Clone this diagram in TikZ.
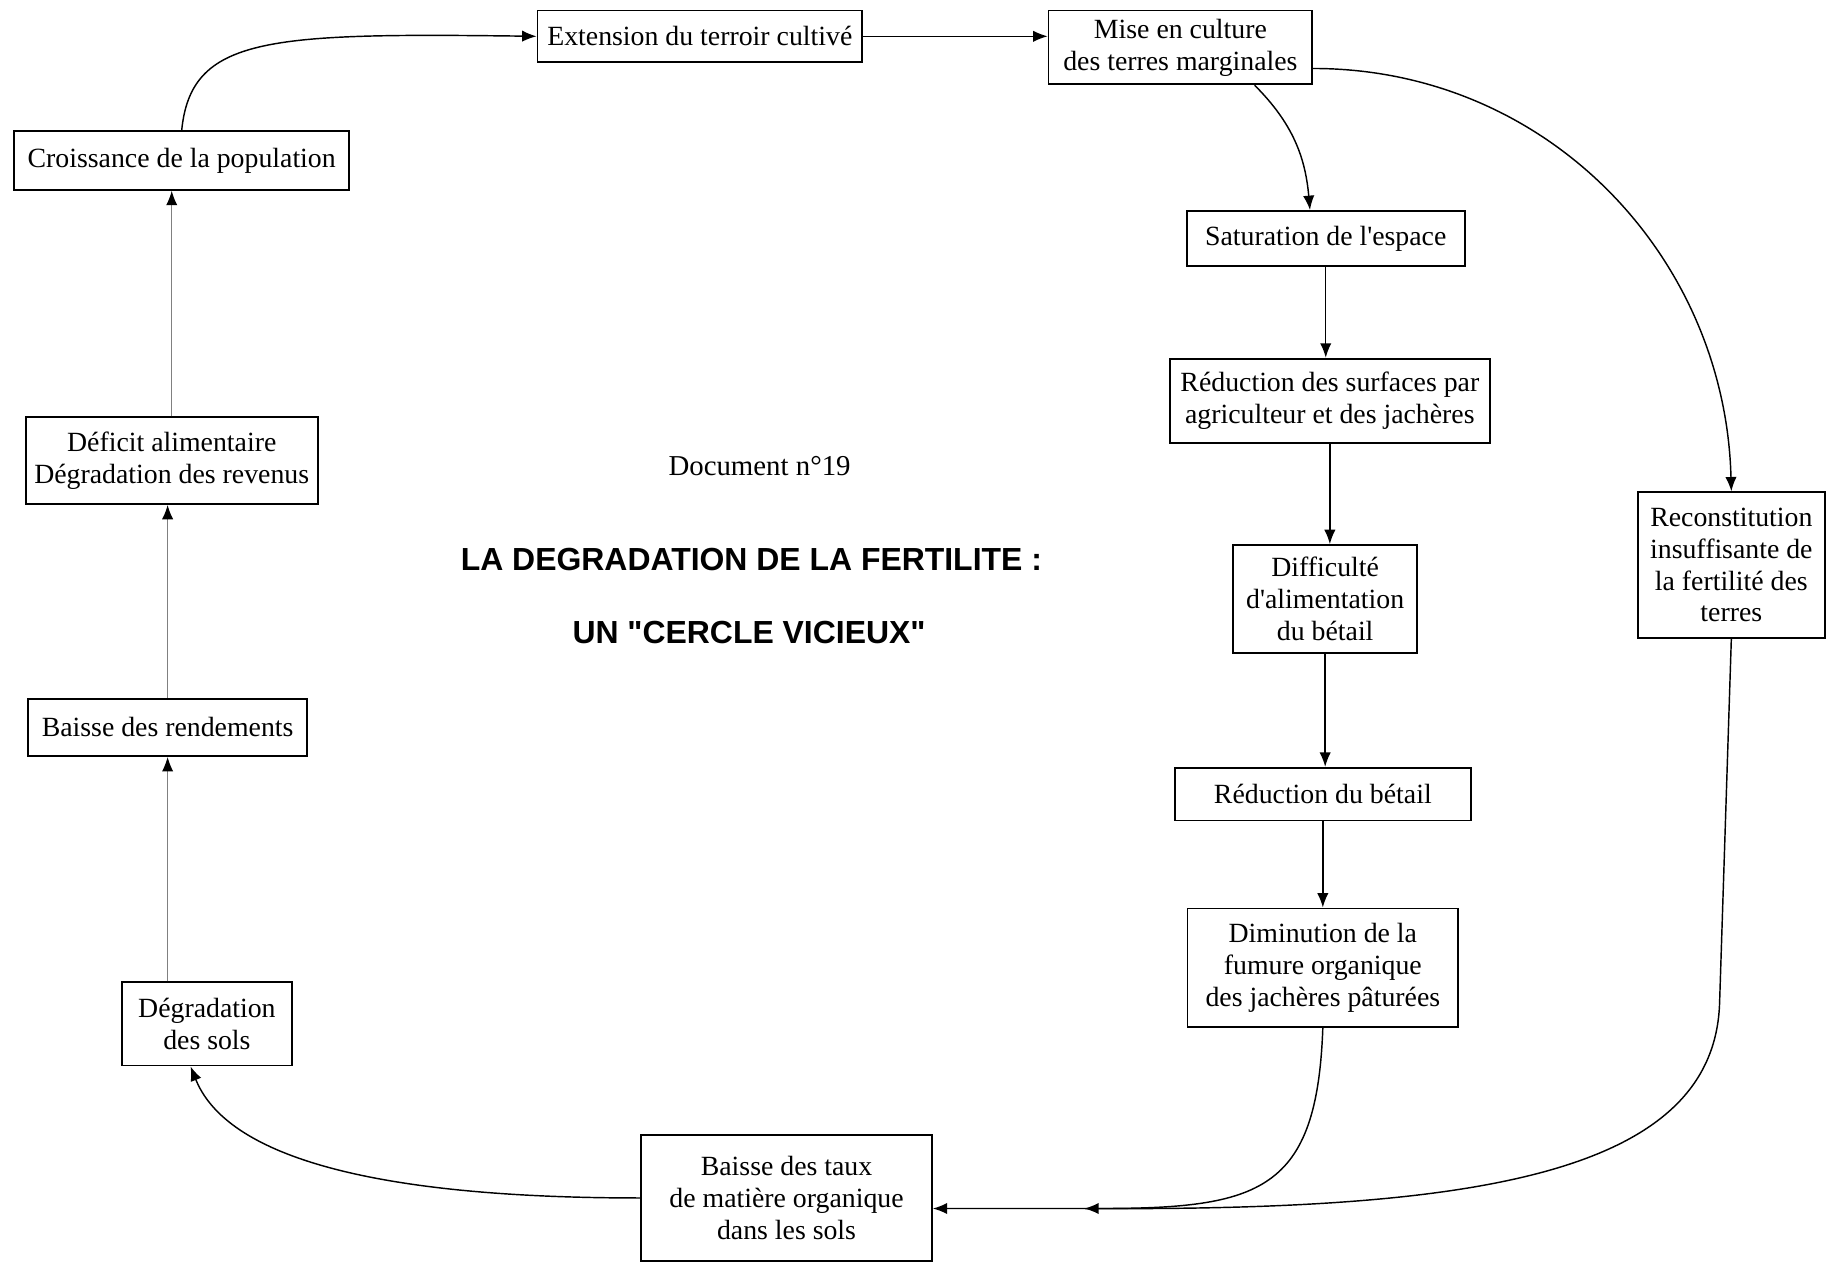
\documentclass[tikz,border=0pt]{standalone}
\usepackage{fontspec}
\setmainfont{Liberation Serif}
\newfontfamily\titlefont{Liberation Sans}
\usepackage{tikz}
\usetikzlibrary{positioning,arrows.meta}

\tikzset{
  box/.style={draw, line width=0.9pt, align=center, inner sep=2pt,
    font=\fontsize{13.5}{15.5}\selectfont},
  link/.style={->, line width=0.7pt},
  faint/.style={-{Latex[length=7pt,width=5.5pt,color=black]}, line width=0.6pt, draw=black!50},
  heading/.style={font=\titlefont\bfseries\fontsize{15.5}{18}\selectfont}
}

\begin{document}
\begin{tikzpicture}[x=0.02cm,y=0.02cm,>={Latex[length=7pt,width=5.5pt]}]
  \useasboundingbox (0,0) rectangle (1568,1077);

  \node[box,minimum width=5.72cm,minimum height=1cm] (croiss) at (155,940) {Croissance de la population};
  \node[box,minimum width=5.54cm,minimum height=0.88cm] (ext) at (597,1046) {Extension du terroir cultivé};
  \node[box,minimum width=4.5cm,minimum height=1.26cm] (mise) at (1007,1036.5) {Mise en culture\\des terres marginales};
  \node[box,minimum width=4.74cm,minimum height=0.94cm] (satur) at (1131,873.5) {Saturation de l\textquotesingle espace};
  \node[box,minimum width=5.46cm,minimum height=1.44cm] (redsurf) at (1134.5,735) {Réduction des surfaces par\\agriculteur et des jachères};
  \node[box,minimum width=3.14cm,minimum height=1.84cm] (diffic) at (1130.5,566) {Difficulté\\d\textquotesingle alimentation\\du bétail};
  \node[box,minimum width=5.06cm,minimum height=0.9cm] (redbet) at (1128.5,399.5) {Réduction du bétail};
  \node[box,minimum width=4.62cm,minimum height=2.02cm] (dimin) at (1128.5,251.5) {Diminution de la\\fumure organique\\des jachères pâturées};
  \node[box,minimum width=3.2cm,minimum height=2.48cm] (recons) at (1477,595) {Reconstitution\\insuffisante de\\la fertilité des\\terres};
  \node[box,minimum width=4.96cm,minimum height=2.16cm] (baisset) at (671,55) {Baisse des taux\\de matière organique\\dans les sols};
  \node[box,minimum width=2.9cm,minimum height=1.42cm] (degrad) at (176.5,203.5) {Dégradation\\des sols};
  \node[box,minimum width=4.76cm,minimum height=0.98cm] (baisser) at (143,456.5) {Baisse des rendements};
  \node[box,minimum width=4.98cm,minimum height=1.48cm] (deficit) at (146.5,684) {Déficit alimentaire\\Dégradation des revenus};

  \node[font=\fontsize{14}{16}\selectfont] (doc) at (648,679) {Document n°19};
  \node[heading] (titleA) at (641,600) {LA DEGRADATION DE LA FERTILITE :};
  \node[heading] (titleB) at (639,537) {UN "CERCLE VICIEUX"};

  \coordinate (merge) at (925,46);

  \draw[link] (croiss.north) .. controls +(8,80) and +(-230,3) .. (ext.west);
  \draw[link] (ext.east) -- (ext.east -| mise.west);
  \draw[link] (mise.-27) to[out=-45,in=95] (satur.119);
  \draw[link] (mise.-9) .. controls +(200,0) and +(-5,200) .. (recons.north);
  \draw[link] (satur.south) -- (satur.south |- redsurf.north);
  \draw[link] (redsurf.south) -- (redsurf.south |- diffic.north);
  \draw[link] (diffic.south) -- (diffic.south |- redbet.north);
  \draw[link] (redbet.south) -- (redbet.south |- dimin.north);
  \draw[link] (dimin.south) .. controls +(-5,-140) and +(150,0) .. (merge);
  \draw[link] (recons.south) -- ++(-10,-310) .. controls +(-4,-150) and +(325,-2) .. (merge) -- (merge -| baisset.east);
  \draw[link] (baisset.west) .. controls +(-250,0) and +(28,-70) .. (degrad.-111);
  \draw[faint] (baisser.south |- degrad.north) -- (baisser.south);
  \draw[faint] (baisser.north) -- (baisser.north |- deficit.south);
  \draw[faint] (deficit.north) -- (deficit.north |- croiss.south);
\end{tikzpicture}
\end{document}
